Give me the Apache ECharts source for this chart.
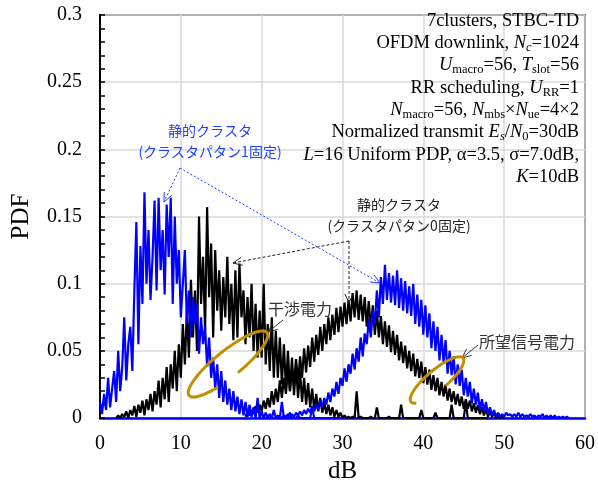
<!DOCTYPE html>
<html>
<head>
<meta charset="utf-8">
<script src="https://cdn.jsdelivr.net/npm/echarts@6/dist/echarts.min.js"></script>
<style>
html, body { margin: 0; padding: 0; background: #fff; }
#MyChart { width: 598px; height: 489px; }
</style>
</head>
<body>
<div id="MyChart"></div>
<script>
// sample spacing of the histograms (dB)
var xStep = 0.25;

// blue: cluster pattern 1 fixed, interference power (from 0 dB)
var blueInterfStart = 0;
var blueInterf = [
	0.012, 0.003, 0.018, 0.006, 0.03, 0.008, 0.022, 0.035,
	0.012, 0.05, 0.02, 0.038, 0.075, 0.028, 0.055, 0.068,
	0.035, 0.095, 0.146, 0.055, 0.128, 0.085, 0.168, 0.1,
	0.14, 0.088, 0.12, 0.162, 0.095, 0.164, 0.11, 0.14,
	0.092, 0.159, 0.12, 0.164, 0.085, 0.15, 0.1, 0.125,
	0.075, 0.1, 0.125, 0.07, 0.095, 0.06, 0.09, 0.07,
	0.085, 0.048, 0.075, 0.055, 0.068, 0.038, 0.06, 0.03,
	0.045, 0.022, 0.04, 0.015, 0.035, 0.012, 0.028, 0.01,
	0.022, 0.006, 0.02, 0.005, 0.016, 0.003, 0.014, 0.002,
	0.012, 0.001, 0.01, 0.001, 0.008, 0, 0.015, 0,
	0.005, 0, 0.004, 0, 0.003, 0, 0.006, 0,
	0.002, 0, 0.012, 0, 0.001, 0, 0.004, 0,
	0, 0, 0.002, 0, 0, 0, 0, 0,
	0, 0.008, 0, 0, 0, 0, 0, 0,
	0, 0, 0, 0, 0, 0, 0, 0, 0
];

// black: cluster pattern 0 fixed, interference power (from 2 dB)
var blackInterfStart = 2;
var blackInterf = [
	0, 0.002, 0, 0.003, 0.001, 0.005, 0, 0.006,
	0.002, 0.009, 0.001, 0.01, 0.004, 0.013, 0.002, 0.014,
	0.006, 0.018, 0.005, 0.02, 0.01, 0.028, 0.008, 0.03,
	0.014, 0.038, 0.012, 0.04, 0.022, 0.05, 0.02, 0.055,
	0.03, 0.07, 0.04, 0.08, 0.045, 0.103, 0.06, 0.095,
	0.05, 0.15, 0.085, 0.12, 0.065, 0.157, 0.09, 0.13,
	0.06, 0.125, 0.08, 0.11, 0.065, 0.105, 0.075, 0.12,
	0.07, 0.1, 0.058, 0.11, 0.06, 0.115, 0.075, 0.095,
	0.055, 0.09, 0.06, 0.1, 0.05, 0.085, 0.045, 0.08,
	0.045, 0.1, 0.04, 0.07, 0.035, 0.075, 0.03, 0.065,
	0.03, 0.06, 0.025, 0.055, 0.022, 0.05, 0.02, 0.045,
	0.017, 0.04, 0.015, 0.035, 0.012, 0.03, 0.01, 0.026,
	0.008, 0.022, 0.006, 0.018, 0.005, 0.015, 0.004, 0.012,
	0.003, 0.01, 0.002, 0.008, 0.001, 0.006, 0.001, 0.004,
	0, 0.002, 0, 0.001, 0, 0.001, 0, 0.02,
	0, 0.001, 0, 0, 0, 0, 0.001, 0,
	0, 0.008, 0, 0, 0, 0, 0, 0.001,
	0, 0, 0, 0, 0, 0.01, 0, 0,
	0, 0, 0, 0, 0, 0, 0, 0.006,
	0, 0, 0, 0, 0, 0, 0.004, 0,
	0, 0, 0, 0, 0, 0, 0.01, 0,
	0, 0, 0, 0, 0, 0.012, 0, 0,
	0, 0, 0, 0, 0, 0, 0, 0, 0
];

// black: cluster pattern 0 fixed, desired signal power (from 18 dB)
var blackSignalStart = 18;
var blackSignal = [
	0.001, 0.005, 0.002, 0.006, 0.003, 0.009, 0.004, 0.01,
	0.005, 0.013, 0.007, 0.015, 0.008, 0.02, 0.01, 0.022,
	0.012, 0.028, 0.015, 0.03, 0.018, 0.036, 0.02, 0.038,
	0.024, 0.044, 0.027, 0.046, 0.03, 0.052, 0.034, 0.054,
	0.038, 0.06, 0.042, 0.062, 0.047, 0.068, 0.05, 0.07,
	0.055, 0.075, 0.058, 0.077, 0.062, 0.082, 0.064, 0.083,
	0.068, 0.086, 0.07, 0.088, 0.072, 0.093, 0.075, 0.095,
	0.073, 0.092, 0.072, 0.09, 0.068, 0.087, 0.066, 0.084,
	0.062, 0.08, 0.06, 0.076, 0.055, 0.072, 0.053, 0.069,
	0.049, 0.065, 0.047, 0.062, 0.043, 0.057, 0.041, 0.054,
	0.037, 0.05, 0.035, 0.048, 0.031, 0.044, 0.03, 0.042,
	0.026, 0.038, 0.025, 0.036, 0.021, 0.032, 0.02, 0.03,
	0.017, 0.027, 0.016, 0.025, 0.013, 0.022, 0.012, 0.02,
	0.01, 0.018, 0.009, 0.016, 0.007, 0.014, 0.007, 0.013,
	0.005, 0.011, 0.004, 0.01, 0.003, 0.008, 0.002, 0.007,
	0.001, 0.005, 0.001, 0.004, 0, 0.002, 0, 0.001, 0
];

// blue: cluster pattern 1 fixed, desired signal power (from 22 dB)
var blueSignalStart = 22;
var blueSignal = [
	0, 0.001, 0, 0.002, 0.001, 0.003, 0.001, 0.003,
	0.001, 0.004, 0.002, 0.005, 0.002, 0.006, 0.003, 0.007,
	0.004, 0.009, 0.005, 0.01, 0.006, 0.013, 0.008, 0.015,
	0.01, 0.019, 0.012, 0.022, 0.016, 0.027, 0.018, 0.03,
	0.024, 0.037, 0.027, 0.04, 0.033, 0.048, 0.036, 0.052,
	0.042, 0.06, 0.046, 0.063, 0.055, 0.074, 0.06, 0.08,
	0.07, 0.095, 0.075, 0.105, 0.085, 0.114, 0.088, 0.108,
	0.086, 0.106, 0.084, 0.11, 0.082, 0.104, 0.08, 0.102,
	0.078, 0.098, 0.076, 0.1, 0.07, 0.092, 0.068, 0.088,
	0.062, 0.084, 0.06, 0.078, 0.052, 0.072, 0.05, 0.068,
	0.043, 0.062, 0.041, 0.058, 0.033, 0.05, 0.032, 0.046,
	0.025, 0.04, 0.024, 0.036, 0.017, 0.03, 0.016, 0.027,
	0.011, 0.022, 0.01, 0.019, 0.006, 0.014, 0.005, 0.012,
	0.003, 0.008, 0.002, 0.006, 0.001, 0.004, 0.001, 0.003,
	0.001, 0.004, 0.002, 0.003, 0.001, 0.003, 0.001, 0.004,
	0.001, 0.003, 0.001, 0.002, 0.001, 0.003, 0.001, 0.002,
	0, 0.002, 0.001, 0.003, 0, 0.002, 0, 0.002,
	0, 0.002, 0, 0.001, 0, 0.001, 0, 0.001, 0
];

var xTicks = [0, 60, 10];
var yTicks = [0, 0.3, 0.05];

var BLUE = '#0000ff';
var GOLD = '#c09000';
var SERIF = '"Liberation Serif", "Times New Roman", serif';
var CJK = '"Noto Sans CJK JP", sans-serif';

function toPairs(start, vals) {
	return vals.map(function(v, i) {
		return [start + i * xStep, v];
	});
}

function arrow(x1, y1, x2, y2, color, dash) {
	var a = Math.atan2(y2 - y1, x2 - x1), L = 10, w = 0.42;
	return [{
		type: 'line', z: 100,
		shape: { x1: x1, y1: y1, x2: x2, y2: y2 },
		style: { stroke: color, lineWidth: 1, lineDash: dash }
	}, {
		type: 'polyline', z: 100,
		shape: { points: [
			[x2 - L * Math.cos(a - w), y2 - L * Math.sin(a - w)],
			[x2, y2],
			[x2 - L * Math.cos(a + w), y2 - L * Math.sin(a + w)]
		] },
		style: { stroke: color, fill: null, lineWidth: 1 }
	}];
}

// open loop (tilted ellipse with a gap), angles in degrees
function loop(cx, cy, rx, ry, rot, from, to) {
	var pts = [], c = Math.cos(rot), s = Math.sin(rot);
	for (var d = from; d <= to; d += 4) {
		var t = d * Math.PI / 180;
		var lx = rx * Math.cos(t), ly = ry * Math.sin(t);
		pts.push([cx + lx * c + ly * s, cy - lx * s + ly * c]);
	}
	return {
		type: 'polyline', z: 100,
		shape: { points: pts, smooth: 0.3 },
		style: { stroke: GOLD, fill: null, lineWidth: 3, lineCap: 'round' }
	};
}

var rich = {
	n: { fontFamily: SERIF, fontSize: 18.5, color: '#222', lineHeight: 22 },
	i: { fontFamily: SERIF, fontSize: 18.5, fontStyle: 'italic', color: '#222', lineHeight: 22 },
	s: { fontFamily: SERIF, fontSize: 12.5, color: '#222', lineHeight: 13, verticalAlign: 'bottom' },
	si: { fontFamily: SERIF, fontSize: 12.5, fontStyle: 'italic', color: '#222', lineHeight: 13, verticalAlign: 'bottom' }
};

var infoLines = [
	'{n|7clusters, STBC-TD}',
	'{n|OFDM downlink, }{i|N}{si|c}{n|=1024}',
	'{i|U}{s|macro}{n|=56, }{i|T}{s|slot}{n|=56}',
	'{n|RR scheduling, }{i|U}{s|RR}{n|=1}',
	'{i|N}{s|macro}{n|=56, }{i|N}{s|mbs}{n|×}{i|N}{s|ue}{n|=4×2}',
	'{n|Normalized transmit }{i|E}{si|s}{n|/}{i|N}{s|0}{n|=30dB}',
	'{i|L}{n|=16 Uniform PDP, α=3.5, σ=7.0dB,}',
	'{i|K}{n|=10dB}'
];

var graphics = [];
infoLines.forEach(function(t, k) {
	graphics.push({
		type: 'text', z: 100,
		style: { x: 579, y: 21 + k * 22.3, text: t, rich: rich, align: 'right', verticalAlign: 'middle' }
	});
});

graphics.push({
	type: 'text', z: 100,
	style: { x: 210, y: 141, text: '静的クラスタ\n(クラスタパタン1固定)', font: '14px ' + CJK, fill: '#1f3fff', align: 'center', verticalAlign: 'middle', lineHeight: 21 }
});
graphics.push({
	type: 'text', z: 100,
	style: { x: 399, y: 215, text: '静的クラスタ\n(クラスタパタン0固定)', font: '14px ' + CJK, fill: '#222', align: 'center', verticalAlign: 'middle', lineHeight: 21 }
});
graphics.push({
	type: 'text', z: 100,
	style: { x: 300, y: 309, text: '干渉電力', font: '16px ' + CJK, fill: '#333', align: 'center', verticalAlign: 'middle' }
});
graphics.push({
	type: 'text', z: 100,
	style: { x: 527, y: 342, text: '所望信号電力', font: '16px ' + CJK, fill: '#333', align: 'center', verticalAlign: 'middle' }
});

graphics = graphics
	.concat(arrow(180, 168, 164, 202, '#1f3fff', [2, 2]))
	.concat(arrow(180, 168, 380, 283, '#1f3fff', [2, 2]))
	.concat(arrow(349, 241, 233, 263, '#222', [3, 2]))
	.concat(arrow(349, 241, 349, 303, '#222', [3, 2]))
	.concat(arrow(283, 320, 268, 332, '#333', null))
	.concat(arrow(478, 345, 462, 358, '#333', null));

graphics.push(loop(228, 364, 50, 13, 0.68, 118, 446));
graphics.push(loop(437, 380, 34, 10, 0.7, 159, 444));

function lineSeries(name, start, vals, color) {
	return {
		name: name,
		type: 'line',
		data: toPairs(start, vals),
		showSymbol: false,
		symbol: 'none',
		lineStyle: { color: color, width: 2.2 },
		itemStyle: { color: color }
	};
}

var option = {
	animation: false,
	backgroundColor: '#fff',
	grid: {
		left: 100, right: 10, top: 15, bottom: 65,
		show: true, borderColor: '#000', borderWidth: 1.5
	},
	xAxis: {
		type: 'value',
		min: xTicks[0], max: xTicks[1], interval: xTicks[2],
		name: 'dB', nameLocation: 'middle', nameGap: 34,
		nameTextStyle: { fontFamily: SERIF, fontSize: 25, color: '#000' },
		axisLine: { show: true, lineStyle: { color: BLUE, width: 2.5 } },
		axisTick: { show: false },
		axisLabel: { fontFamily: SERIF, fontSize: 20, color: '#000', margin: 16 },
		splitLine: { show: true, lineStyle: { color: '#d9d9d9', width: 1.5 } }
	},
	yAxis: {
		type: 'value',
		min: yTicks[0], max: yTicks[1], interval: yTicks[2],
		name: 'PDF', nameLocation: 'middle', nameGap: 66,
		nameTextStyle: { fontFamily: SERIF, fontSize: 25, color: '#000' },
		axisLine: { show: true, lineStyle: { color: '#000', width: 2 } },
		axisTick: { show: true, inside: true, length: 5, lineStyle: { color: '#000', width: 1.5 } },
		minorTick: { show: true, splitNumber: 5, length: 5, lineStyle: { color: '#000', width: 1.5 } },
		axisLabel: { fontFamily: SERIF, fontSize: 20, color: '#000', margin: 18 },
		splitLine: { show: true, lineStyle: { color: '#d9d9d9', width: 1.5 } }
	},
	series: [
		lineSeries('interf0', blackInterfStart, blackInterf, '#000'),
		lineSeries('signal0', blackSignalStart, blackSignal, '#000'),
		lineSeries('interf1', blueInterfStart, blueInterf, BLUE),
		lineSeries('signal1', blueSignalStart, blueSignal, BLUE)
	],
	graphic: graphics
};

var myChart1 = echarts.init(document.getElementById('MyChart'));
myChart1.setOption(option);
</script>
</body>
</html>
